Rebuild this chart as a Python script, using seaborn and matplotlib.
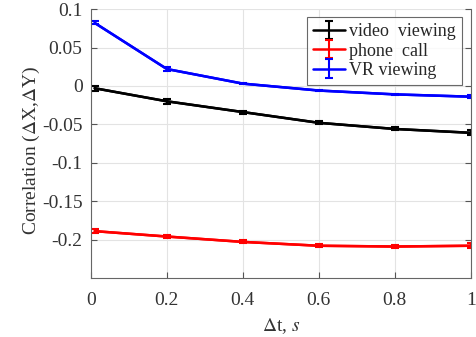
import numpy as np
import pandas as pd
import matplotlib
matplotlib.use("Agg")
import matplotlib.pyplot as plt
import seaborn as sns

dt = [0.01, 0.2, 0.4, 0.6, 0.8, 1.0]
video = [-0.003, -0.020, -0.034, -0.048, -0.056, -0.061]
phone = [-0.189, -0.196, -0.203, -0.208, -0.209, -0.208]
vr = [0.082, 0.022, 0.003, -0.006, -0.011, -0.014]
video_err = [0.003, 0.003, 0.002, 0.002, 0.002, 0.003]
phone_err = [0.003, 0.002, 0.002, 0.002, 0.002, 0.003]
vr_err = [0.002, 0.002, 0.001, 0.001, 0.001, 0.002]

series = [("video  viewing", video, video_err, "black"),
          ("phone  call", phone, phone_err, "red"),
          ("VR viewing", vr, vr_err, "blue")]

sns.set_style("white")
plt.rcParams['font.family'] = ['Liberation Serif', 'DejaVu Serif']
plt.rcParams['mathtext.fontset'] = 'stix'

fig = plt.figure(figsize=(4.76, 3.37), dpi=100)
ax = fig.add_axes([0.191, 0.175, 0.798, 0.798])

for name, vals, err, col in series:
    df = pd.DataFrame({"dt": dt, "val": vals})
    sns.lineplot(data=df, x="dt", y="val", color=col, linewidth=1.8, ax=ax, legend=False)
    ax.errorbar(dt, vals, yerr=err, color=col, linewidth=1.8, elinewidth=1.5,
                capsize=3, capthick=1.5, label=name)

ax.set_xlim(0, 1)
ax.set_ylim(-0.25, 0.1)
ax.set_xticks([0, 0.2, 0.4, 0.6, 0.8, 1])
ax.set_xticklabels(["0", "0.2", "0.4", "0.6", "0.8", "1"])
ax.set_yticks([-0.2, -0.15, -0.1, -0.05, 0, 0.05, 0.1])
ax.set_yticklabels(["-0.2", "-0.15", "-0.1", "-0.05", "0", "0.05", "0.1"])
ax.grid(True, color="#e3e3e3", linewidth=0.8)
ax.tick_params(direction="in", length=4, color="#555555", labelsize=14,
               labelcolor="#333333", top=False, right=True, left=True, bottom=True)
ax.tick_params(axis="x", pad=10)
ax.tick_params(axis="y", pad=6)
for s in ax.spines.values():
    s.set_color("#666666")
    s.set_linewidth(0.8)
ax.spines["top"].set_visible(False)

ax.set_xlabel(r"$\Delta$t, $s$", fontsize=14, color="#333333", labelpad=5)
ax.set_ylabel(r"Correlation ($\Delta$X,$\Delta$Y)", fontsize=14, color="#333333")
ax.yaxis.set_label_coords(-0.13, 0.476)

leg = ax.legend(loc="upper right", fontsize=13, frameon=True, fancybox=False,
                borderpad=0.35, labelspacing=0.12, handlelength=1.75, handletextpad=0.2,
                borderaxespad=0, bbox_to_anchor=(0.976, 0.970))
leg.get_frame().set_edgecolor("#444444")
leg.get_frame().set_linewidth(0.8)

fig.savefig("out.png", dpi=100)
